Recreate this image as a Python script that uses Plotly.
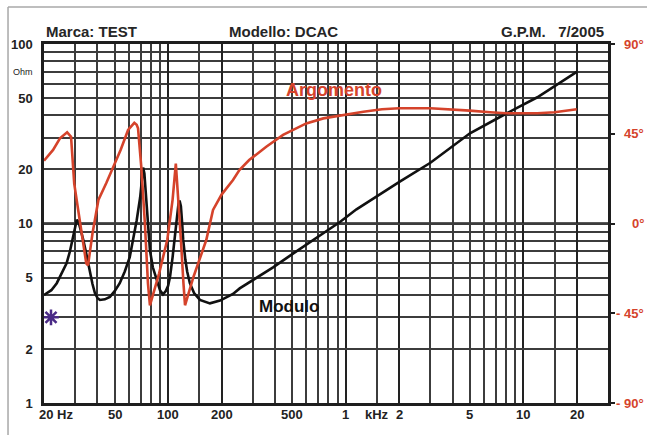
import numpy as np
import plotly.graph_objects as go

# ---------------- data ----------------
mod_freq = [20, 22, 23.6, 25, 26.8, 28, 29.2, 30, 30.6, 31.3, 32.2, 33.3, 34.8, 36.3, 37.5,
            38.7, 40, 41.3, 44, 47, 50, 53.4, 57, 60.8, 63.5, 66.5, 69.6, 71, 72.3, 73.5,
            75, 77, 79, 82, 86, 90, 93.6, 97, 100, 102.5, 106, 109.6, 112, 114.4, 116,
            118, 120, 121.6, 125, 128, 132.6, 140, 151, 172, 196, 232, 253, 312,
            390, 484, 601, 748, 928, 1150, 1365, 2016, 3000, 5010, 8030, 12000, 20000]
mod_ohm = [4.0, 4.25, 4.65, 5.2, 6.0, 7.0, 8.4, 9.6, 10.5, 10.2, 9.2, 8.1, 6.6, 5.3, 4.6,
           4.1, 3.85, 3.75, 3.78, 3.9, 4.2, 4.65, 5.4, 6.5, 8.0, 10.4, 14.0, 17.5, 20.5, 19.0,
           14.0, 9.5, 7.1, 5.7, 4.84, 4.25, 4.03, 4.2, 4.5, 5.05, 6.5, 8.8, 11.0, 12.9, 13.4,
           12.5, 10.0, 8.1, 6.3, 5.4, 4.65, 4.1, 3.75, 3.59, 3.72, 4.05, 4.35, 4.95,
           5.7, 6.6, 7.6, 8.8, 10.2, 12.0, 13.4, 17.1, 21.8, 31.8, 41.0, 50.5, 70.0]

arg_freq = [20, 22.5, 24.6, 27.0, 28.4, 29.6, 31.0, 34.6, 35.4, 37.5, 40.5, 44.8,
            54, 59.5, 64.5, 66.5, 67.7, 70.6, 74, 77, 79, 89, 99, 106, 110.5, 113, 118,
            122, 124.5, 139, 164, 179, 200, 232, 252, 286, 357, 444, 600, 748, 928, 1258,
            1600, 2000, 3000, 4000, 5000, 6500, 8000, 12000, 15000, 20000]
arg_deg = [31.5, 36.9, 42.7, 45.7, 43.5, 20.0, 8.0, -20.0, -21.0, -5.0, 11.8, 20.2,
           36.9, 46.9, 50.5, 49.5, 47.7, 28.5, 0.0, -30.0, -41.0, -25.0, -8.0, 12.0, 30.0, 18.0, -8.0,
           -30.0, -41.0, -26.7, -8.3, 6.8, 14.5, 21.8, 26.8, 31.8, 38.5, 44.4, 50.2, 52.7, 54.2, 56.0,
           57.3, 57.8, 57.8, 57.3, 56.6, 55.8, 55.3, 55.3, 55.8, 57.3]

star_freq = [21.9]
star_ohm = [3.0]

x_major = [20, 100, 200, 1000, 2000, 10000, 20000]
x_minor = [30, 40, 50, 60, 70, 80, 90, 150, 300, 400, 500, 600, 700, 800, 900, 1500,
           3000, 4000, 5000, 6000, 7000, 8000, 9000, 15000]
x_label_vals = [20, 50, 100, 200, 500, 1000, 1500, 2000, 5000, 10000, 20000]
x_label_text = ["20 Hz", "50", "100", "200", "500", "1", "kHz", "2", "5", "10", "20"]

y_label_vals = [1, 2, 5, 10, 20, 50, 100]
y_label_text = ["1", "2", "5", "10", "20", "50", "100"]
y_minor = [3, 4, 6, 7, 8, 9, 30, 40, 60, 70, 80, 90]

phase_vals = [-90, -45, 0, 45, 90]
phase_text = ["- 90°", "- 45°", "0°", "45°", "90°"]

RED = "#d5432b"
INK = "#1e1e1e"
GRID = "#3c3c3c"
FONT = "Liberation Sans"

fig = go.Figure()
fig.add_trace(go.Scatter(x=arg_freq, y=arg_deg, yaxis="y2", mode="lines",
                         line=dict(color=RED, width=2.6), name="Argomento"))
fig.add_trace(go.Scatter(x=mod_freq, y=mod_ohm, mode="lines",
                         line=dict(color="#111111", width=2.6), name="Modulo"))
fig.add_trace(go.Scatter(x=star_freq, y=star_ohm, mode="markers",
                         marker=dict(symbol="asterisk-open", size=13, color="#4a2a86",
                                     line=dict(color="#4a2a86", width=2.5)),
                         name="star"))

fig.update_layout(
    width=647, height=435,
    margin=dict(l=44, r=39, t=44, b=32),
    paper_bgcolor="white", plot_bgcolor="white",
    showlegend=False,
    xaxis=dict(type="log", range=[np.log10(20), np.log10(30000)],
               tickvals=x_major, showticklabels=False, ticks="",
               showgrid=True, gridcolor="#222222", gridwidth=2.3,
               minor=dict(tickvals=x_minor, showgrid=True, gridcolor=GRID,
                          gridwidth=1.5, ticks=""),
               showline=True, linecolor=INK, linewidth=2.5, mirror=True,
               zeroline=False, automargin=False),
    yaxis=dict(type="log", range=[0, 2],
               tickvals=y_label_vals, ticktext=y_label_text, ticks="",
               tickfont=dict(family=FONT, size=13, color="#222", weight="bold"),
               ticklabelstandoff=6,
               showgrid=True, gridcolor=GRID, gridwidth=1.5,
               minor=dict(tickvals=y_minor, showgrid=True, gridcolor=GRID,
                          gridwidth=1.5, ticks=""),
               showline=True, linecolor=INK, linewidth=2.5, mirror=True,
               zeroline=False, automargin=False),
    yaxis2=dict(overlaying="y", side="right", range=[-90, 90],
                tickvals=phase_vals, showticklabels=False,
                ticks="outside", ticklen=6, tickwidth=1.5, tickcolor=INK,
                showgrid=False, zeroline=False, showline=False, automargin=False),
)

# heavier horizontal line at 10 Ohm / 0°
fig.add_shape(type="line", xref="paper", x0=0, x1=1, yref="y", y0=10, y1=10,
              line=dict(color="#222222", width=2.3), layer="below")

# outer frame (top and left edges visible in the reference)
fig.add_shape(type="line", xref="paper", yref="paper", x0=-0.0638, x1=1.2,
              y0=1.103, y1=1.103, line=dict(color="#a8a8a8", width=1.5))
fig.add_shape(type="line", xref="paper", yref="paper", x0=-0.0638, x1=-0.0638,
              y0=1.103, y1=-0.2, line=dict(color="#a8a8a8", width=1.5))

ann = []
# frequency labels
for v, t in zip(x_label_vals, x_label_text):
    if t == "20 Hz":
        ann.append(dict(x=np.log10(v), y=-0.031, xref="x", yref="paper", text=t,
                        showarrow=False, xanchor="left", xshift=-7, yanchor="middle",
                        font=dict(family=FONT, size=13, color="#222", weight="bold")))
    else:
        ann.append(dict(x=np.log10(v), y=-0.031, xref="x", yref="paper", text=t,
                        showarrow=False, xanchor="center", yanchor="middle",
                        font=dict(family=FONT, size=13, color="#222", weight="bold")))
# phase labels
for v, t in zip(phase_vals, phase_text):
    ann.append(dict(x=1.0674, y=v, xref="paper", yref="y2", text=t, showarrow=False,
                    xanchor="right", yanchor="middle",
                    font=dict(family=FONT, size=13, color=RED, weight="bold")))
# unit
ann.append(dict(x=-0.016, y=1.844, xref="paper", yref="y", text="Ohm", showarrow=False,
                xanchor="right", yanchor="middle",
                font=dict(family=FONT, size=9, color="#222")))
# header
hdr_font = dict(family=FONT, size=15, color="#262626", weight="bold")
ann.append(dict(x=0.0, y=1.034, xref="paper", yref="paper", text="Marca: TEST",
                showarrow=False, xanchor="left", yanchor="middle", font=hdr_font))
ann.append(dict(x=(283 - 44) / 564, y=1.034, xref="paper", yref="paper", text="Modello: DCAC",
                showarrow=False, xanchor="center", yanchor="middle", font=hdr_font))
ann.append(dict(x=(606 - 44) / 564, y=1.034, xref="paper", yref="paper",
                text="G.P.M.&nbsp;&nbsp;&nbsp;7/2005",
                showarrow=False, xanchor="right", yanchor="middle", font=hdr_font))
# curve names
ann.append(dict(x=2.933, y=1.744, xref="x", yref="y", text="Argomento", showarrow=False,
                xanchor="center", yanchor="middle",
                font=dict(family=FONT, size=18, color=RED, weight="bold")))
ann.append(dict(x=2.6825, y=0.535, xref="x", yref="y", text="Modulo", showarrow=False,
                xanchor="center", yanchor="middle",
                font=dict(family=FONT, size=17, color="#111", weight="bold")))

fig.update_layout(annotations=ann)
fig.write_html("out.html",
               config={"displayModeBar": False},
               post_script="document.body.style.margin='0px';"
                           "document.body.style.overflow='hidden';")
